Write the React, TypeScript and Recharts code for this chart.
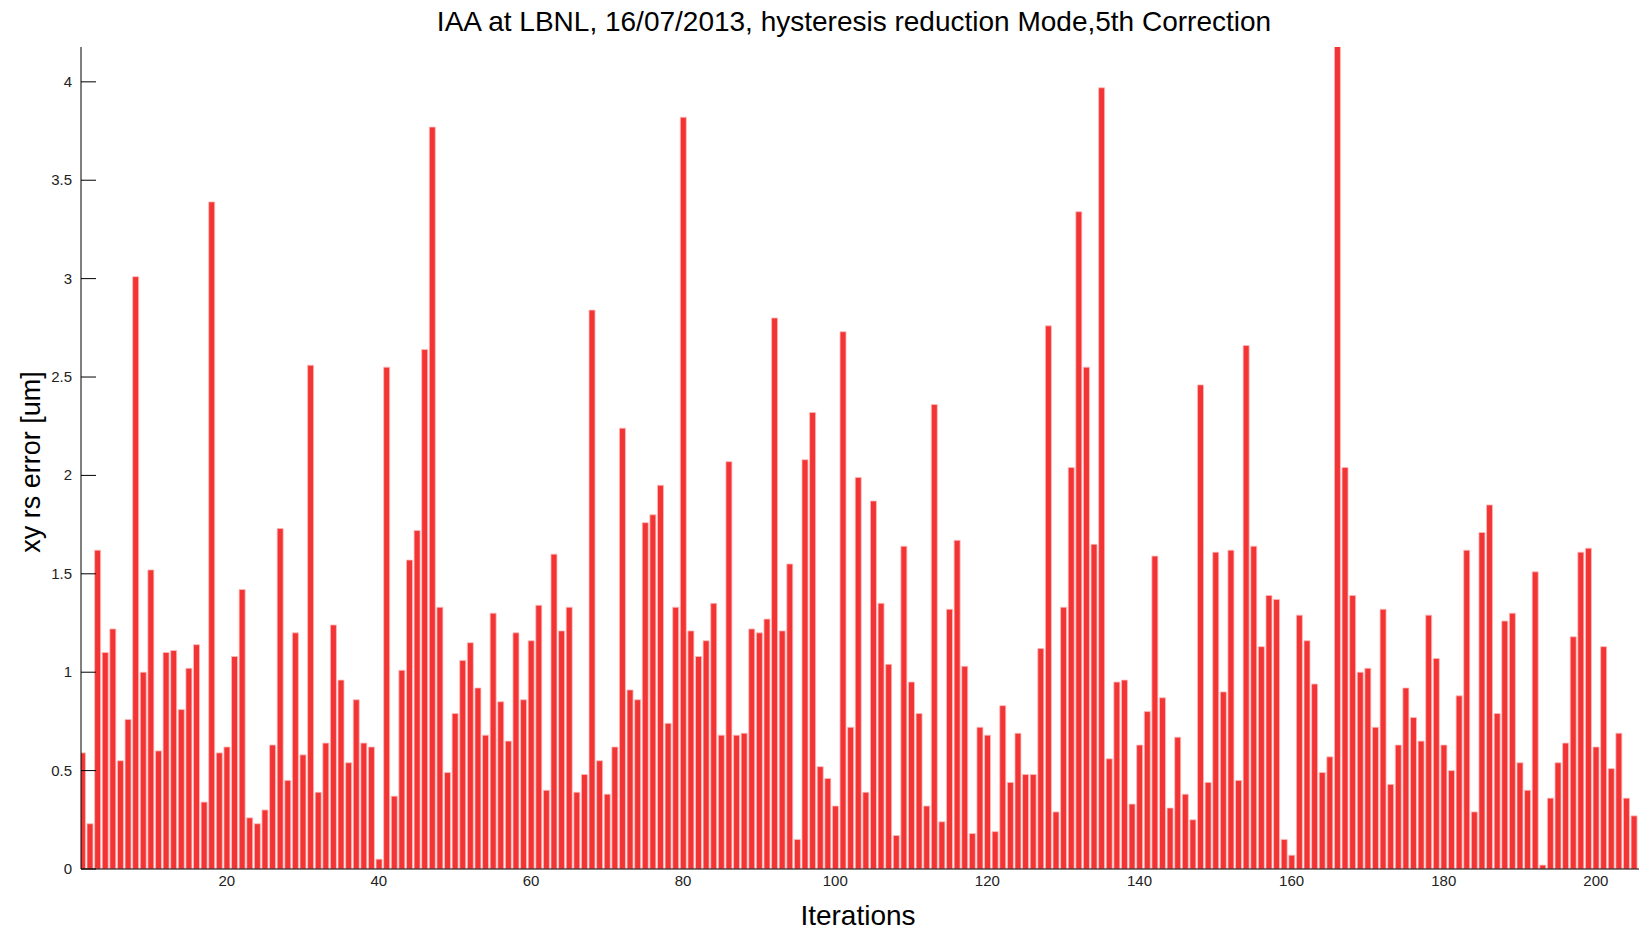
import React from "react";
import { BarChart, Bar, XAxis, YAxis } from "recharts";

const iterations = Array.from({ length: 205 }, (_, i) => i + 1);

const errorValues = [
  0.59, 0.23, 1.62, 1.1, 1.22, 0.55, 0.76, 3.01, 1.0, 1.52,
  0.6, 1.1, 1.11, 0.81, 1.02, 1.14, 0.34, 3.39, 0.59, 0.62,
  1.08, 1.42, 0.26, 0.23, 0.3, 0.63, 1.73, 0.45, 1.2, 0.58,
  2.56, 0.39, 0.64, 1.24, 0.96, 0.54, 0.86, 0.64, 0.62, 0.05,
  2.55, 0.37, 1.01, 1.57, 1.72, 2.64, 3.77, 1.33, 0.49, 0.79,
  1.06, 1.15, 0.92, 0.68, 1.3, 0.85, 0.65, 1.2, 0.86, 1.16,
  1.34, 0.4, 1.6, 1.21, 1.33, 0.39, 0.48, 2.84, 0.55, 0.38,
  0.62, 2.24, 0.91, 0.86, 1.76, 1.8, 1.95, 0.74, 1.33, 3.82,
  1.21, 1.08, 1.16, 1.35, 0.68, 2.07, 0.68, 0.69, 1.22, 1.2,
  1.27, 2.8, 1.21, 1.55, 0.15, 2.08, 2.32, 0.52, 0.46, 0.32,
  2.73, 0.72, 1.99, 0.39, 1.87, 1.35, 1.04, 0.17, 1.64, 0.95,
  0.79, 0.32, 2.36, 0.24, 1.32, 1.67, 1.03, 0.18, 0.72, 0.68,
  0.19, 0.83, 0.44, 0.69, 0.48, 0.48, 1.12, 2.76, 0.29, 1.33,
  2.04, 3.34, 2.55, 1.65, 3.97, 0.56, 0.95, 0.96, 0.33, 0.63,
  0.8, 1.59, 0.87, 0.31, 0.67, 0.38, 0.25, 2.46, 0.44, 1.61,
  0.9, 1.62, 0.45, 2.66, 1.64, 1.13, 1.39, 1.37, 0.15, 0.07,
  1.29, 1.16, 0.94, 0.49, 0.57, 4.6, 2.04, 1.39, 1.0, 1.02,
  0.72, 1.32, 0.43, 0.63, 0.92, 0.77, 0.65, 1.29, 1.07, 0.63,
  0.5, 0.88, 1.62, 0.29, 1.71, 1.85, 0.79, 1.26, 1.3, 0.54,
  0.4, 1.51, 0.02, 0.36, 0.54, 0.64, 1.18, 1.61, 1.63, 0.62,
  1.13, 0.51, 0.69, 0.36, 0.27,
];

const xTicks = [20, 40, 60, 80, 100, 120, 140, 160, 180, 200];
const yTicks = [0, 0.5, 1, 1.5, 2, 2.5, 3, 3.5, 4];

const chartData = iterations.map((it, i) => ({ iteration: it, error: errorValues[i] }));

const font = "'Liberation Sans', Arial, Helvetica, sans-serif";
const TICK_LEN = 15;
const xDomain = [0.84, 206.2];
const yDomain = [0, 4.177];

const LeftTick = ({ x, y, payload }: any) => (
  <g>
    <line x1={x} x2={x + TICK_LEN} y1={y} y2={y} stroke="#000" />
    <text x={x - 9} y={y} dy={5} textAnchor="end" fontSize={15} fontFamily={font} fill="#222">
      {payload.value}
    </text>
  </g>
);

const RightTick = ({ x, y }: any) => (
  <line x1={x - TICK_LEN} x2={x} y1={y} y2={y} stroke="#000" />
);

const TopTick = ({ x, y }: any) => (
  <line x1={x} x2={x} y1={y} y2={y + TICK_LEN} stroke="#000" />
);

// bottom ticks sit behind the bars in the original, so only the labels are drawn
const BottomTick = ({ x, y, payload }: any) => (
  <text x={x} y={y + 17} textAnchor="middle" fontSize={15} fontFamily={font} fill="#222">
    {payload.value}
  </text>
);

const App: React.FC = () => (
  <div style={{ position: "absolute", left: 0, top: 0, width: 1639, height: 931, overflow: "hidden", background: "#fff" }}>
    <BarChart
      width={1645}
      height={931}
      data={chartData}
      margin={{ top: 47, right: 2, left: 21, bottom: 22 }}
    >
      <XAxis
        dataKey="iteration"
        type="number"
        domain={xDomain}
        ticks={xTicks}
        allowDataOverflow
        interval={0}
        height={40}
        tickSize={0}
        tickMargin={0}
        tick={BottomTick}
        tickLine={false}
        axisLine={{ stroke: "#000" }}
      />
      <XAxis
        xAxisId="top"
        orientation="top"
        dataKey="iteration"
        type="number"
        domain={xDomain}
        ticks={xTicks}
        allowDataOverflow
        interval={0}
        height={0}
        tickSize={0}
        tickMargin={0}
        tick={TopTick}
        tickLine={false}
        axisLine={{ stroke: "#000" }}
      />
      <YAxis
        type="number"
        domain={yDomain}
        ticks={yTicks}
        allowDataOverflow
        interval={0}
        width={60}
        tickSize={0}
        tickMargin={0}
        tick={LeftTick}
        tickLine={false}
        axisLine={{ stroke: "#000" }}
      />
      <YAxis
        yAxisId="right"
        orientation="right"
        type="number"
        domain={yDomain}
        ticks={yTicks}
        allowDataOverflow
        interval={0}
        width={0}
        tickSize={0}
        tickMargin={0}
        tick={RightTick}
        tickLine={false}
        axisLine={{ stroke: "#000" }}
      />
      <Bar
        dataKey="error"
        barSize={6}
        fill="#f23434"
        stroke="#fbb"
        strokeWidth={0.8}
        isAnimationActive={false}
      />
    </BarChart>
    <svg
      width={1639}
      height={931}
      style={{ position: "absolute", left: 0, top: 0, pointerEvents: "none" }}
    >
      <text x={854} y={31} textAnchor="middle" fontSize={28} fontFamily={font} fill="#000">
        IAA at LBNL, 16/07/2013, hysteresis reduction Mode,5th Correction
      </text>
      <text
        transform="translate(40,462) rotate(-90)"
        textAnchor="middle"
        fontSize={27}
        fontFamily={font}
        fill="#000"
      >
        xy rs error [um]
      </text>
      <text x={858} y={925} textAnchor="middle" fontSize={28} fontFamily={font} fill="#000">
        Iterations
      </text>
    </svg>
  </div>
);

export default App;
